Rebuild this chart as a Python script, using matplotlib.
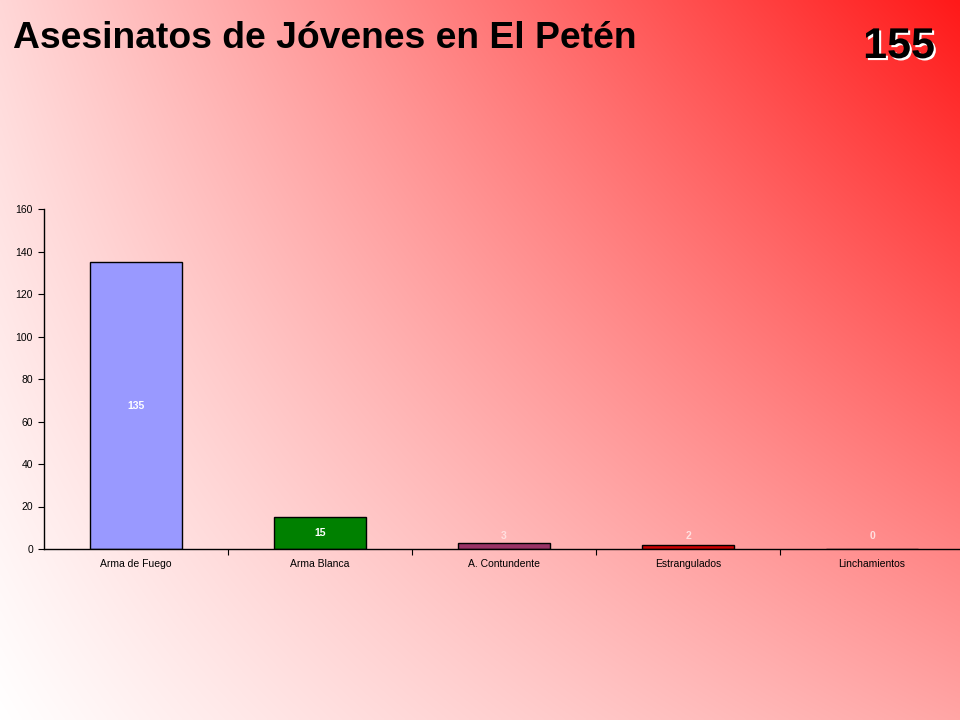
import numpy as np
import matplotlib
matplotlib.use("Agg")
import matplotlib.pyplot as plt
import matplotlib.patheffects as pe

categories = ["Arma de Fuego", "Arma Blanca", "A. Contundente", "Estrangulados", "Linchamientos"]
values = [135, 15, 3, 2, 0]
bar_colors = ["#9999FF", "#008000", "#993366", "#CC0000", "#FF6666"]
total = 155
title = "Asesinatos de Jóvenes en El Petén"

plt.rcParams['font.family'] = ['Liberation Sans', 'DejaVu Sans']

W, H = 960, 720
fig = plt.figure(figsize=(W / 100, H / 100), dpi=100)

# background gradient (white bottom-left to red top-right)
xx, yy = np.meshgrid(np.linspace(0, 1, 480), np.linspace(1, 0, 360))
g = (255 - 90 * xx - 40 * yy - 100 * xx * yy) / 255.0
g = np.clip(g, 0, 1)
img = np.dstack([np.ones_like(g), g, g])
bg = fig.add_axes([0, 0, 1, 1], zorder=-10)
bg.imshow(img, aspect='auto', extent=[0, 1, 0, 1], interpolation='bilinear')
bg.axis('off')

ax = fig.add_axes([44 / W, 171 / H, 920 / W, 340 / H])
ax.set_facecolor('none')
x = np.arange(len(categories))
ax.bar(x, values, width=0.5, color=bar_colors, edgecolor='black', linewidth=1.0)
ax.set_xlim(-0.5, len(categories) - 0.5)
ax.set_ylim(0, 160)
ax.set_yticks(np.arange(0, 161, 20))
ax.set_xticks(x)
ax.set_xticklabels(categories)
ax.set_xticks(np.arange(0.5, len(categories) - 0.5, 1), minor=True)
ax.tick_params(axis='x', which='major', length=0, pad=7, labelsize=7.5)
ax.tick_params(axis='x', which='minor', length=4, direction='out', width=0.8)
ax.tick_params(axis='y', length=4, direction='out', width=0.8, labelsize=7.5, pad=4)
for s in ['top', 'right']:
    ax.spines[s].set_visible(False)
for s in ['left', 'bottom']:
    ax.spines[s].set_linewidth(1.0)
    ax.spines[s].set_zorder(3)

for xi, v in zip(x, values):
    ypos = max(v / 2, 6)
    col = 'white' if v >= 10 else '#FFE0E0'
    ax.text(xi, ypos, str(v), ha='center', va='center', color=col,
            fontsize=7.5, fontweight='bold')

fig.text(13 / W, 1 - 47.5 / H, title, fontsize=26.8, fontweight='bold',
         ha='left', va='baseline', color='black')
fig.text(899 / W, 1 - 58 / H, str(total), fontsize=31, fontweight='bold',
         ha='center', va='baseline', color='black',
         path_effects=[pe.withSimplePatchShadow(offset=(1.5, -1.5), shadow_rgbFace='white', alpha=1.0)])

fig.savefig('out.png', dpi=100)
